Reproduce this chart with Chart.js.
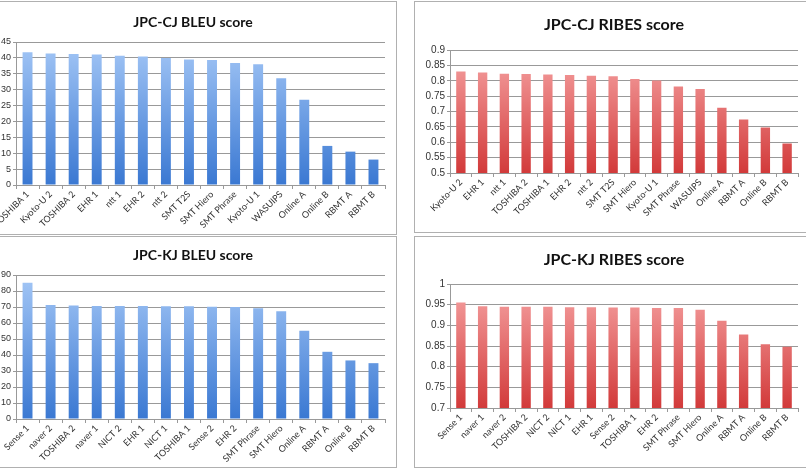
<!DOCTYPE html>
<html>
<head>
<meta charset="utf-8">
<script src="https://cdn.jsdelivr.net/npm/chart.js@4"></script>
<style>
  body { margin: 0; width: 806px; height: 469px; overflow: hidden; background: #fff; position: relative; }
  .panneau { position: absolute; border: 1px solid #b0b0b0; box-sizing: border-box; }
  canvas { position: absolute; left: 0; top: 0; }
</style>
</head>
<body>
<div class="panneau" style="left:-2px;top:1px;width:399px;height:234px"><canvas id="cj-bleu" width="398" height="232"></canvas></div>
<div class="panneau" style="left:414px;top:1px;width:400px;height:232px"><canvas id="cj-ribes" width="398" height="230"></canvas></div>
<div class="panneau" style="left:-2px;top:236px;width:399px;height:232px"><canvas id="kj-bleu" width="398" height="230"></canvas></div>
<div class="panneau" style="left:414px;top:236px;width:400px;height:232px"><canvas id="kj-ribes" width="398" height="230"></canvas></div>
<script>
// donnees
const cjBleuLabels = ["TOSHIBA 1", "Kyoto-U 2", "TOSHIBA 2", "EHR 1", "ntt 1", "EHR 2", "ntt 2", "SMT T2S",
  "SMT Hiero", "SMT Phrase", "Kyoto-U 1", "WASUIPS", "Online A", "Online B", "RBMT A", "RBMT B"];
const cjBleuValues = [41.8, 41.4, 41.2, 41.1, 40.7, 40.4, 40.0, 39.5, 39.3, 38.4, 38.0, 33.6, 26.8, 12.3, 10.5, 8.0];

const cjRibesLabels = ["Kyoto-U 2", "EHR 1", "ntt 1", "TOSHIBA 2", "TOSHIBA 1", "EHR 2", "ntt 2", "SMT T2S",
  "SMT Hiero", "Kyoto-U 1", "SMT Phrase", "WASUIPS", "Online A", "RBMT A", "Online B", "RBMT B"];
const cjRibesValues = [0.830, 0.827, 0.823, 0.822, 0.820, 0.819, 0.816, 0.815, 0.806, 0.801, 0.781, 0.773, 0.712, 0.674, 0.648, 0.596];

const kjBleuLabels = ["Sense 1", "naver 2", "TOSHIBA 2", "naver 1", "NICT 2", "EHR 1", "NICT 1", "TOSHIBA 1",
  "Sense 2", "EHR 2", "SMT Phrase", "SMT Hiero", "Online A", "RBMT A", "Online B", "RBMT B"];
const kjBleuValues = [85.2, 71.3, 70.9, 70.7, 70.7, 70.6, 70.5, 70.4, 70.2, 70.0, 69.2, 67.3, 55.1, 42.0, 36.6, 34.9];

const kjRibesLabels = ["Sense 1", "naver 1", "naver 2", "TOSHIBA 2", "NICT 2", "NICT 1", "EHR 1", "Sense 2",
  "TOSHIBA 1", "EHR 2", "SMT Phrase", "SMT Hiero", "Online A", "RBMT A", "Online B", "RBMT B"];
const kjRibesValues = [0.955, 0.946, 0.945, 0.945, 0.945, 0.944, 0.944, 0.943, 0.943, 0.942, 0.942, 0.938, 0.911, 0.878, 0.854, 0.848];

// couleurs des degrades (haut, bas)
const bleu = ["#a4c7f6", "#3a78d2"];
const rouge = ["#f6a4a4", "#d23a3a"];

function degrade(couleurs) {
  return function (ctx) {
    const area = ctx.chart.chartArea;
    if (!area) return couleurs[1];
    const g = ctx.chart.ctx.createLinearGradient(0, area.top, 0, area.bottom);
    g.addColorStop(0, couleurs[0]);
    g.addColorStop(1, couleurs[1]);
    return g;
  };
}

// creation d'un graphique en barres facon Excel
function graphique(id, titre, labels, values, couleurs, y, mise) {
  new Chart(document.getElementById(id), {
    type: "bar",
    data: {
      labels: labels,
      datasets: [{ data: values, backgroundColor: degrade(couleurs), barPercentage: 0.43, categoryPercentage: 1 }],
    },
    options: {
      responsive: false,
      animation: false,
      layout: { padding: { left: 0, right: mise.titreDroite, top: 0, bottom: 0 } },
      plugins: {
        legend: { display: false },
        tooltip: { enabled: false },
        title: {
          display: true,
          text: titre,
          color: "#111",
          font: { family: "Lato", size: mise.titre, weight: "bold", lineHeight: 1.2 },
          padding: { top: mise.titreTop, bottom: mise.titreBas },
        },
      },
      scales: {
        x: {
          grid: { drawOnChartArea: false, drawTicks: true, tickLength: 4, color: "#999", offset: true },
          border: { color: "#999" },
          ticks: { color: "#333", font: { family: "Lato", size: 9 }, maxRotation: 45, minRotation: 45, padding: 0, autoSkip: false },
          // hauteur fixe et marge droite de la zone de trace
          afterFit: function (s) { s.height = mise.xHaut; s.paddingLeft = 0; s.paddingRight = mise.droite; },
        },
        y: {
          min: y.min,
          max: y.max,
          grid: { color: "#999", tickLength: 3 },
          border: { color: "#999" },
          ticks: {
            stepSize: y.pas,
            autoSkip: false,
            color: "#333",
            font: { family: "Liberation Sans", size: mise.ySize },
            padding: 2,
            callback: function (v) { return Math.round(v * 100) / 100; },
          },
          afterFit: function (s) { s.width = mise.yLarge; },
        },
      },
    },
  });
}

graphique("cj-bleu", "JPC-CJ BLEU score", cjBleuLabels, cjBleuValues, bleu,
  { min: 0, max: 45, pas: 5 },
  { titreDroite: 10, droite: 12, yLarge: 17, xHaut: 49, titre: 14, titreTop: 11.6, titreBas: 11.6, ySize: 9 });
graphique("cj-ribes", "JPC-CJ RIBES score", cjRibesLabels, cjRibesValues, rouge,
  { min: 0.5, max: 0.9, pas: 0.05 },
  { titreDroite: 0, droite: 15, yLarge: 35, xHaut: 59, titre: 16, titreTop: 13.4, titreBas: 15.4, ySize: 10 });
graphique("kj-bleu", "JPC-KJ BLEU score", kjBleuLabels, kjBleuValues, bleu,
  { min: 0, max: 90, pas: 10 },
  { titreDroite: 10, droite: 12, yLarge: 17, xHaut: 48, titre: 14, titreTop: 9.6, titreBas: 11.6, ySize: 9 });
graphique("kj-ribes", "JPC-KJ RIBES score", kjRibesLabels, kjRibesValues, rouge,
  { min: 0.7, max: 1, pas: 0.05 },
  { titreDroite: 0, droite: 15, yLarge: 35, xHaut: 59, titre: 16, titreTop: 13.4, titreBas: 14.4, ySize: 10 });
</script>
</body>
</html>
